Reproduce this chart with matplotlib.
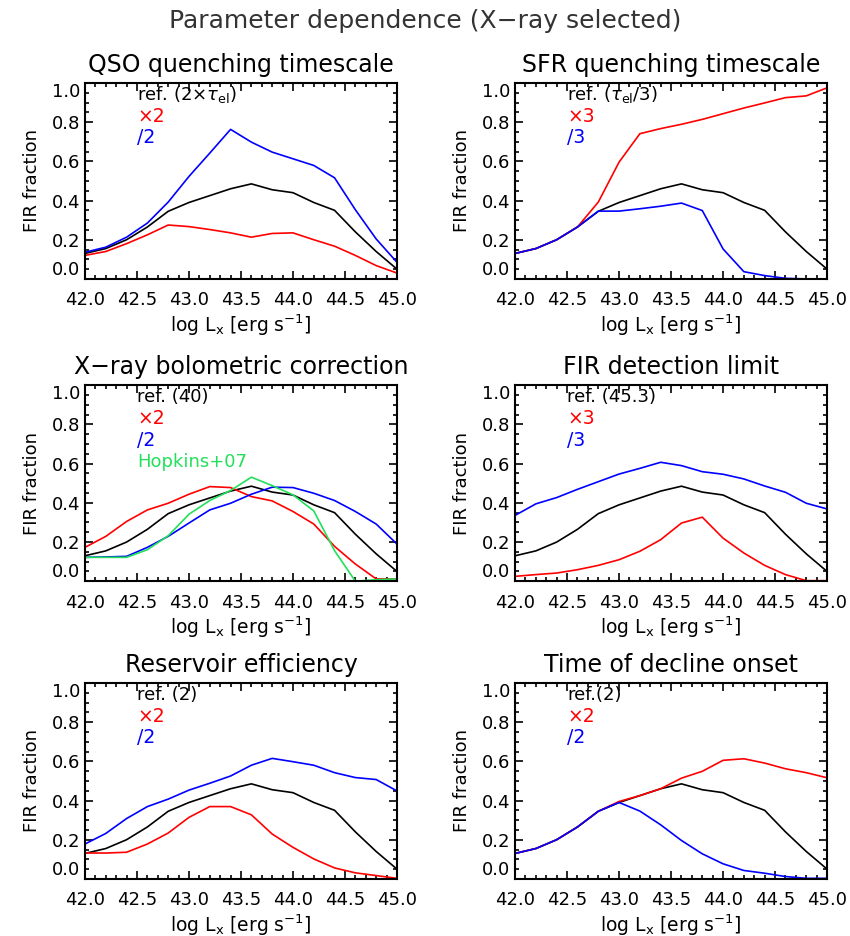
import numpy as np
import matplotlib
matplotlib.use('Agg')
import matplotlib.pyplot as plt
from matplotlib.ticker import MultipleLocator

# log Lx grid
log_lx = [42.0, 42.2, 42.4, 42.6, 42.8, 43.0, 43.2, 43.4,
          43.6, 43.8, 44.0, 44.2, 44.4, 44.6, 44.8, 45.0]

# reference model (same in every panel)
ref = [0.13, 0.155, 0.20, 0.265, 0.345, 0.39, 0.425, 0.46,
       0.485, 0.455, 0.44, 0.39, 0.35, 0.24, 0.14, 0.05]

# QSO quenching timescale
qso_up = [0.12, 0.14, 0.18, 0.225, 0.275, 0.267, 0.252, 0.235,
          0.213, 0.232, 0.235, 0.20, 0.167, 0.12, 0.068, 0.03]
qso_down = [0.136, 0.162, 0.213, 0.285, 0.392, 0.523, 0.642, 0.763,
            0.698, 0.647, 0.613, 0.579, 0.516, 0.353, 0.204, 0.085]

# SFR quenching timescale
sfr_up = [0.13, 0.155, 0.20, 0.265, 0.392, 0.596, 0.741, 0.767,
          0.789, 0.814, 0.843, 0.872, 0.898, 0.925, 0.934, 0.975]
sfr_down = [0.13, 0.155, 0.20, 0.265, 0.346, 0.346, 0.358, 0.371,
            0.387, 0.349, 0.153, 0.037, 0.017, 0.003, 0.0, 0.0]

# X-ray bolometric correction
bol_up = [0.173, 0.229, 0.305, 0.364, 0.398, 0.444, 0.483, 0.478,
          0.432, 0.41, 0.356, 0.292, 0.178, 0.088, 0.012, 0.012]
bol_down = [0.122, 0.124, 0.127, 0.173, 0.229, 0.297, 0.364, 0.398,
            0.444, 0.48, 0.478, 0.449, 0.412, 0.356, 0.292, 0.19]
bol_hopkins = [0.122, 0.122, 0.122, 0.161, 0.232, 0.342, 0.412, 0.463,
               0.531, 0.488, 0.441, 0.359, 0.156, 0.0, 0.008, 0.012]

# FIR detection limit
fir_up = [0.025, 0.034, 0.042, 0.059, 0.081, 0.11, 0.153, 0.212,
          0.297, 0.327, 0.22, 0.144, 0.081, 0.034, 0.003, 0.003]
fir_down = [0.336, 0.395, 0.427, 0.469, 0.508, 0.547, 0.576, 0.607,
            0.59, 0.559, 0.546, 0.522, 0.486, 0.454, 0.398, 0.369]

# Reservoir efficiency
res_up = [0.132, 0.132, 0.136, 0.178, 0.234, 0.314, 0.369, 0.369,
          0.327, 0.229, 0.161, 0.102, 0.056, 0.031, 0.017, 0.003]
res_down = [0.178, 0.232, 0.308, 0.369, 0.407, 0.453, 0.488, 0.525,
            0.58, 0.615, 0.598, 0.58, 0.542, 0.517, 0.507, 0.449]

# Time of decline onset
dec_up = [0.13, 0.155, 0.20, 0.265, 0.345, 0.395, 0.425, 0.46,
          0.514, 0.549, 0.605, 0.613, 0.591, 0.562, 0.542, 0.516]
dec_down = [0.13, 0.155, 0.20, 0.265, 0.345, 0.39, 0.346, 0.276,
            0.196, 0.128, 0.077, 0.043, 0.029, 0.012, 0.003, 0.003]

titles = ['QSO quenching timescale', 'SFR quenching timescale',
          'X\u2212ray bolometric correction', 'FIR detection limit',
          'Reservoir efficiency', 'Time of decline onset']
ref_labels = [r'ref. (2$\times\tau_{\rm el}$)', r'ref. ($\tau_{\rm el}$/3)',
              'ref. (40)', 'ref. (45.3)', 'ref. (2)', 'ref.(2)']
up_labels = ['\u00d72', '\u00d73', '\u00d72', '\u00d73', '\u00d72', '\u00d72']
down_labels = ['/2', '/3', '/2', '/3', '/2', '/2']
up_data = [qso_up, sfr_up, bol_up, fir_up, res_up, dec_up]
down_data = [qso_down, sfr_down, bol_down, fir_down, res_down, dec_down]
yticks = [0.0, 0.2, 0.4, 0.6, 0.8, 1.0]

RED = '#ff0000'
BLUE = '#0000ff'
GREEN = '#22e05a'

plt.rcParams['font.family'] = ['DejaVu Sans']
plt.rcParams['mathtext.fontset'] = 'dejavusans'

fig = plt.figure(figsize=(8.5, 9.36), dpi=100)
fig.text(0.5, 0.978, 'Parameter dependence (X\u2212ray selected)',
         ha='center', va='center', fontsize=18, color='#333333')

lefts = [0.100, 0.606]
bottoms = [0.702, 0.379, 0.061]
w, h = 0.367, 0.2094

for i in range(6):
    ax = fig.add_axes([lefts[i % 2], bottoms[i // 2], w, h])
    ax.plot(log_lx, ref, color='black', lw=1.2, clip_on=False)
    ax.plot(log_lx, up_data[i], color=RED, lw=1.2, clip_on=False)
    ax.plot(log_lx, down_data[i], color=BLUE, lw=1.2, clip_on=False)
    if i == 2:
        ax.plot(log_lx, bol_hopkins, color=GREEN, lw=1.2, clip_on=False)

    ax.xaxis.set_major_locator(MultipleLocator(0.5))
    ax.xaxis.set_minor_locator(MultipleLocator(0.1))
    ax.set_yticks(yticks)
    ax.set_yticklabels(['%.1f' % v for v in yticks])
    ax.yaxis.set_minor_locator(MultipleLocator(0.05))
    ax.xaxis.set_major_formatter(plt.FormatStrFormatter('%.1f'))
    ax.set_xlim(42.0, 45.0)
    ax.set_ylim(0.0, 1.0)
    ax.tick_params(which='both', direction='in', top=True, right=True,
                   width=1.2, labelsize=13)
    ax.tick_params(which='major', length=6)
    ax.tick_params(which='minor', length=3)
    ax.tick_params(axis='x', pad=9)
    # end labels sit inside the box, as in the original
    labs = ax.get_yticklabels()
    labs[0].set_va('bottom')
    labs[-1].set_va('top')
    for s in ax.spines.values():
        s.set_linewidth(1.5)
        s.set_zorder(3)

    ax.set_title(titles[i], fontsize=17, pad=8)
    ax.set_xlabel(r'log L$_{\rm x}$ [erg s$^{-1}$]', fontsize=13.5, labelpad=2)
    ax.set_ylabel('FIR fraction', fontsize=13, labelpad=8)

    ax.text(42.5, 0.94, ref_labels[i], color='black', fontsize=13, va='center')
    ax.text(42.5, 0.83, up_labels[i], color=RED, fontsize=13.5, va='center')
    ax.text(42.5, 0.72, down_labels[i], color=BLUE, fontsize=13.5, va='center')
    if i == 2:
        ax.text(42.5, 0.61, 'Hopkins+07', color=GREEN, fontsize=13, va='center')

fig.savefig('out.png', dpi=100)
